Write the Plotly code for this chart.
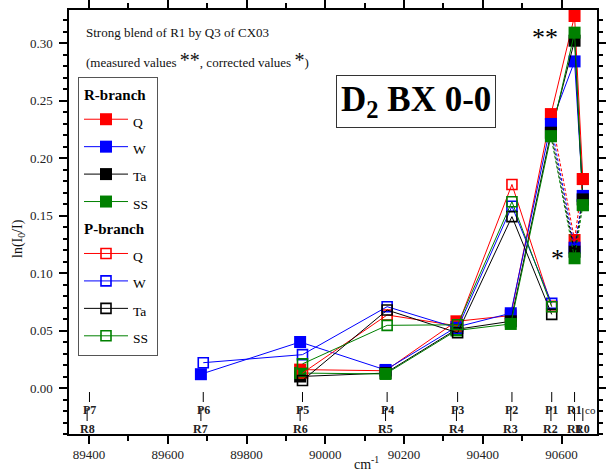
import plotly.graph_objects as go

FONT = "Liberation Serif"

species = ["Q", "W", "Ta", "SS"]
colors = ["#ff0000", "#0000ff", "#000000", "#008000"]

# R-branch (filled): R7, R6, R5, R4, R3, R2, R1 (measured), R0
R_x = [89684, 89936, 90153, 90333, 90471, 90573, 90633, 90654]
R_Q = [None, 0.016, 0.015, 0.058, 0.063, 0.238, 0.3235, 0.1817]
R_W = [0.012, 0.040, 0.0157, 0.053, 0.065, 0.2296, 0.284, 0.167]
R_Ta = [None, 0.010, 0.013, 0.051, 0.058, 0.222, 0.302, 0.164]
R_SS = [None, 0.013, 0.0122, 0.050, 0.0557, 0.219, 0.309, 0.159]

# corrected R1 values
R1_corr = [0.1287, 0.122, 0.1185, 0.1128]

# P-branch (open): P6, P5, P4, P3, P2, P1
P_x = [89690, 89942, 90157, 90336, 90474, 90575]
P_Q = [None, 0.013, 0.0635, 0.054, 0.177, 0.071]
P_W = [0.022, 0.029, 0.0707, 0.052, 0.158, 0.0736]
P_Ta = [None, 0.0065, 0.0678, 0.048, 0.149, 0.064]
P_SS = [None, 0.021, 0.0545, 0.055, 0.162, 0.0707]

# line identification marks
top_labels = ["P7", "P6", "P5", "P4", "P3", "P2", "P1", "R1"]
top_pos = [89401, 89690, 89942, 90157, 90336, 90474, 90575, 90633]
bot_labels = ["R8", "R7", "R6", "R5", "R4", "R3", "R2", "R1", "R0"]
bot_pos = [89395, 89684, 89936, 90153, 90333, 90471, 90573, 90633, 90654]

R_all = [R_Q, R_W, R_Ta, R_SS]
P_all = [P_Q, P_W, P_Ta, P_SS]


def clean(xs, ys):
    pts = [(a, b) for a, b in zip(xs, ys) if b is not None]
    return [p[0] for p in pts], [p[1] for p in pts]


fig = go.Figure()

for i, (name, col) in enumerate(zip(species, colors)):
    xs, ys = clean(R_x, R_all[i])
    fig.add_trace(go.Scatter(
        x=xs, y=ys, mode="lines+markers",
        name=f"<span style='font-size:13.5px'>{name}</span>",
        line=dict(color=col, width=1),
        marker=dict(symbol="square", size=12, color=col, line=dict(width=0)),
        legendgroup="R",
        legendgrouptitle=dict(text="<b>R-branch</b>", font=dict(family=FONT, size=15, color="black")),
    ))

for i, (name, col) in enumerate(zip(species, colors)):
    # dashed connection through corrected R1 value
    fig.add_trace(go.Scatter(
        x=[R_x[5], R_x[6], R_x[7]], y=[R_all[i][5], R1_corr[i], R_all[i][7]],
        mode="lines+markers", showlegend=False,
        line=dict(color=col, width=1, dash="3px,2px"),
        marker=dict(symbol="square", size=12, color=col, line=dict(width=0)),
        legendgroup="R",
    ))

for i, (name, col) in enumerate(zip(species, colors)):
    xs, ys = clean(P_x, P_all[i])
    fig.add_trace(go.Scatter(
        x=xs, y=ys, mode="lines+markers",
        name=f"<span style='font-size:13.5px'>{name}</span>",
        line=dict(color=col, width=1),
        marker=dict(symbol="square-open", size=10, color=col, line=dict(width=1.6, color=col)),
        legendgroup="P",
        legendgrouptitle=dict(text="<b>P-branch</b>", font=dict(family=FONT, size=15, color="black")),
    ))

annotations = []
shapes = []
for lab, pos in zip(top_labels, top_pos):
    shapes.append(dict(type="line", xref="x", yref="y", x0=pos, x1=pos, y0=-0.0035, y1=-0.0122,
                       line=dict(color="black", width=1)))
    annotations.append(dict(x=pos, y=-0.0191, xref="x", yref="y", text=f"<b>{lab}</b>", showarrow=False,
                            xanchor="center", yanchor="middle",
                            font=dict(family=FONT, size=12, color="#222")))
for lab, pos in zip(bot_labels, bot_pos):
    shapes.append(dict(type="line", xref="x", yref="y", x0=pos, x1=pos, y0=-0.0174, y1=-0.0287,
                       line=dict(color="black", width=1)))
    annotations.append(dict(x=pos, y=-0.0359, xref="x", yref="y", text=f"<b>{lab}</b>", showarrow=False,
                            xanchor="center", yanchor="middle",
                            font=dict(family=FONT, size=12, color="#222")))
annotations.append(dict(x=90674, y=-0.0191, xref="x", yref="y", text="co", showarrow=False,
                        xanchor="center", yanchor="middle",
                        font=dict(family=FONT, size=11, color="#222")))

pix_annotations = [
    dict(x=84, y=32, text="Strong blend of R1 by Q3 of CX03", xanchor="left",
         font=dict(family=FONT, size=13, color="#111")),
    dict(x=84, y=60,
         text="(measured values <span style='font-size:20px'>**</span>, corrected values <span style='font-size:20px'>*</span>)",
         xanchor="left", font=dict(family=FONT, size=13, color="#111")),
    dict(x=416, y=101.5, text="<b>D<sub>2</sub> BX 0-0</b>",
         font=dict(family=FONT, size=35, color="black"),
         bordercolor="#333", borderwidth=1, borderpad=4, bgcolor="white"),
    dict(x=545, y=38, text="**", font=dict(family=FONT, size=26, color="black")),
    dict(x=557, y=258, text="*", font=dict(family=FONT, size=26, color="black")),
    dict(x=18, y=239, text="ln(I<sub>0</sub>/I)", textangle=-90,
         font=dict(family=FONT, size=14, color="#111")),
    dict(x=366, y=463, text="cm<sup>-1</sup>", font=dict(family=FONT, size=14, color="#111")),
]

W, H = 606, 471
L, R, T, B = 69, 9, 10, 37
pw, ph = W - L - R, H - T - B
for a in pix_annotations:
    a.setdefault("xanchor", "center")
    a.setdefault("yanchor", "middle")
    a["x"] = (a["x"] - L) / pw
    a["y"] = (H - a["y"] - B) / ph
    a["xref"] = "paper"
    a["yref"] = "paper"
    a["showarrow"] = False
    annotations.append(a)

axis_common = dict(showline=True, linecolor="black", linewidth=1.5, mirror="ticks", ticks="outside",
                   tickwidth=1.5, tickcolor="black", showgrid=False, zeroline=False, automargin=False,
                   tickfont=dict(family=FONT, size=13, color="#222"))

fig.update_layout(
    template="none",
    width=W, height=H,
    margin=dict(l=L, r=R, t=T, b=B, autoexpand=False),
    paper_bgcolor="white", plot_bgcolor="white",
    xaxis=dict(range=[89349, 90690], tick0=89400, dtick=200, ticklen=8, tickformat="d",
               minor=dict(dtick=100, tick0=89400, ticklen=5, ticks="outside", tickwidth=1.5, tickcolor="black"),
               **axis_common),
    yaxis=dict(range=[-0.040, 0.3287], tick0=0, dtick=0.05, tickformat=".2f", ticklen=8,
               ticklabelstandoff=4,
               minor=dict(dtick=0.01, tick0=0, ticklen=4, ticks="outside", tickwidth=1.5, tickcolor="black"),
               **axis_common),
    legend=dict(x=(78 - L) / pw, y=(H - 77 - B) / ph, xanchor="left", yanchor="top",
                bordercolor="#555", borderwidth=1, bgcolor="white",
                font=dict(family=FONT, size=18.8, color="black"),
                tracegroupgap=2, itemwidth=44, traceorder="grouped"),
    annotations=annotations, shapes=shapes,
    showlegend=True,
)

fig.write_html("out.html")
